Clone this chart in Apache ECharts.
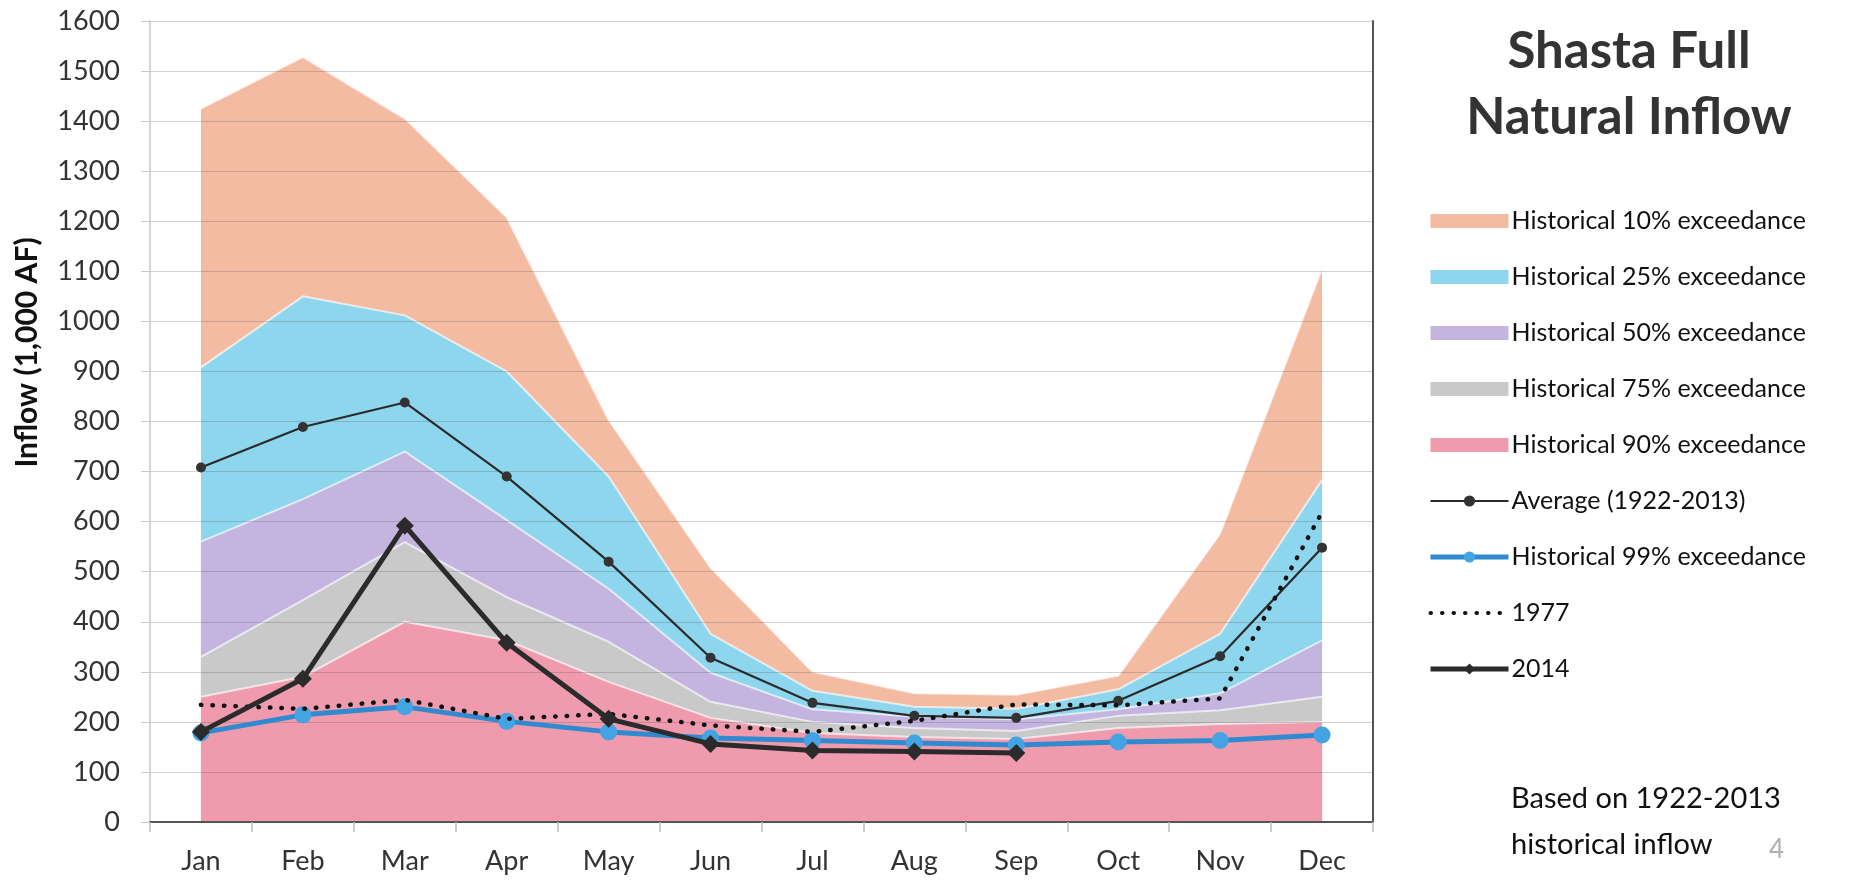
<!DOCTYPE html>
<html>
<head>
<meta charset="utf-8">
<script src="https://cdn.jsdelivr.net/npm/echarts@6/dist/echarts.min.js"></script>
<style>
html,body{margin:0;padding:0;background:#fff;}
#chart{width:1860px;height:880px;}
</style>
</head>
<body>
<div id="chart"></div>
<script>
const months = ['Jan','Feb','Mar','Apr','May','Jun','Jul','Aug','Sep','Oct','Nov','Dec'];
const yTicks = {min: 0, max: 1600, interval: 100};

const p10 = [1425, 1528, 1405, 1208, 803, 508, 300, 257, 254, 292, 576, 1105];
const p25 = [908, 1050, 1012, 900, 690, 376, 262, 230, 226, 265, 376, 683];
const p50 = [560, 645, 740, 603, 466, 298, 225, 210, 205, 225, 257, 363];
const p75 = [330, 443, 559, 449, 360, 240, 200, 188, 182, 212, 223, 250];
const p90 = [250, 290, 400, 363, 280, 208, 178, 170, 166, 188, 196, 200];

const avg = [708, 789, 838, 690, 520, 328, 238, 212, 208, 242, 331, 548];
const p99 = [178, 214, 230, 201, 180, 168, 163, 158, 154, 160, 163, 174];
const y1977 = [234, 226, 244, 206, 216, 193, 180, 202, 235, 233, 247, 619];
const y2014 = [180, 286, 592, 358, 206, 156, 143, 141, 138, null, null, null];

const FONT = 'Lato';

function areaSeries(name, data, color) {
  return {
    name: name, type: 'line', data: data, color: color,
    symbol: 'none', smooth: false,
    lineStyle: {color: 'rgba(255,255,255,0.65)', width: 2},
    areaStyle: {color: color, opacity: 1, origin: 'start'},
    emphasis: {disabled: true}, z: 2
  };
}

const chart = echarts.init(document.getElementById('chart'), null, {renderer: 'canvas'});
chart.setOption({
  backgroundColor: '#ffffff',
  animation: false,
  textStyle: {fontFamily: FONT},
  title: [
    {text: 'Shasta Full\nNatural Inflow', left: 1624, top: 14, textAlign: 'center',
     textStyle: {fontFamily: FONT, fontWeight: 'bold', fontSize: 51, lineHeight: 66, color: '#333'}},
    {text: 'Based on 1922-2013\nhistorical inflow', left: 1506, top: 771,
     textStyle: {fontFamily: FONT, fontWeight: 'normal', fontSize: 29, lineHeight: 46, color: '#111'}},
    {text: '4', left: 1764, top: 832,
     textStyle: {fontFamily: FONT, fontWeight: 'normal', fontSize: 26, color: '#b0b0b0'}}
  ],
  legend: {
    orient: 'vertical', left: 1423, top: 201,
    itemWidth: 78, itemHeight: 14, itemGap: 26,
    textStyle: {fontFamily: FONT, fontSize: 25, lineHeight: 30, color: '#111', padding: [0,0,0,-2]},
    selectedMode: false,
    data: [
      {name: 'Historical 10% exceedance', icon: 'rect'},
      {name: 'Historical 25% exceedance', icon: 'rect'},
      {name: 'Historical 50% exceedance', icon: 'rect'},
      {name: 'Historical 75% exceedance', icon: 'rect'},
      {name: 'Historical 90% exceedance', icon: 'rect'},
      {name: 'Average (1922-2013)', lineStyle: {width: 2}},
      {name: 'Historical 99% exceedance', lineStyle: {width: 5}},
      {name: '1977', lineStyle: {width: 4}, itemStyle: {color: 'rgba(0,0,0,0)', borderWidth: 0}},
      {name: '2014', lineStyle: {width: 5}}
    ]
  },
  grid: {left: 150, right: 487, top: 21, bottom: 58, containLabel: false},
  xAxis: [
    {type: 'category', data: months, boundaryGap: true,
     axisLine: {show: true, lineStyle: {color: '#c4c4c4', width: 1.5}},
     axisTick: {show: true, length: 10, lineStyle: {color: '#bdbdbd', width: 1.5}},
     axisLabel: {fontFamily: FONT, fontSize: 27, color: '#333', margin: 26},
     splitLine: {show: false}, z: 5},
    {type: 'category', data: months, position: 'top', boundaryGap: true,
     axisLine: {show: true, lineStyle: {color: '#555', width: 2}},
     axisTick: {show: false}, axisLabel: {show: false}, splitLine: {show: false}, z: 5}
  ],
  yAxis: [
    {type: 'value', min: yTicks.min, max: yTicks.max, interval: yTicks.interval,
     name: 'Inflow (1,000 AF)', nameLocation: 'middle', nameGap: 108, nameRotate: 90,
     nameTextStyle: {fontFamily: FONT, fontWeight: 'bold', fontSize: 30, color: '#111', padding: [0, 0, 0, 138]},
     axisLine: {show: true, lineStyle: {color: '#c8c8c8', width: 1.5}},
     axisTick: {show: true, length: 9, lineStyle: {color: '#c8c8c8'}},
     axisLabel: {fontFamily: FONT, fontSize: 27, color: '#333', margin: 30,
                 formatter: function (v) { return String(v); }},
     splitLine: {show: true, lineStyle: {color: 'rgba(90,90,90,0.28)', width: 1.2}}, z: 5},
    {type: 'value', min: yTicks.min, max: yTicks.max, interval: yTicks.interval, position: 'right',
     axisLine: {show: true, lineStyle: {color: '#555', width: 2}},
     axisTick: {show: false}, axisLabel: {show: false}, splitLine: {show: false}, z: 5}
  ],
  series: [
    areaSeries('Historical 10% exceedance', p10, '#F4BBA3'),
    areaSeries('Historical 25% exceedance', p25, '#8ED6EE'),
    areaSeries('Historical 50% exceedance', p50, '#C3B5DF'),
    areaSeries('Historical 75% exceedance', p75, '#C9C9C9'),
    areaSeries('Historical 90% exceedance', p90, '#EF9BAD'),
    {name: 'Average (1922-2013)', type: 'line', data: avg, color: '#2a2a2a',
     symbol: 'circle', symbolSize: 10, lineStyle: {color: '#2a2a2a', width: 2.2},
     itemStyle: {color: '#333'}, z: 10},
    {name: 'Historical 99% exceedance', type: 'line', data: p99, color: '#2F8AD0',
     symbol: 'circle', symbolSize: 17, lineStyle: {color: '#2F8AD0', width: 5},
     itemStyle: {color: '#44A3E3'}, z: 11},
    {name: '1977', type: 'line', data: y1977, color: '#111',
     symbol: 'none', lineStyle: {color: '#111', width: 4.5, type: [0.5, 11], cap: 'round'}, z: 12},
    {name: '2014', type: 'line', data: y2014, color: '#2b2b2b',
     symbol: 'diamond', symbolSize: 18, lineStyle: {color: '#2b2b2b', width: 5},
     itemStyle: {color: '#2b2b2b'}, connectNulls: false, z: 13}
  ]
});
</script>
</body>
</html>
